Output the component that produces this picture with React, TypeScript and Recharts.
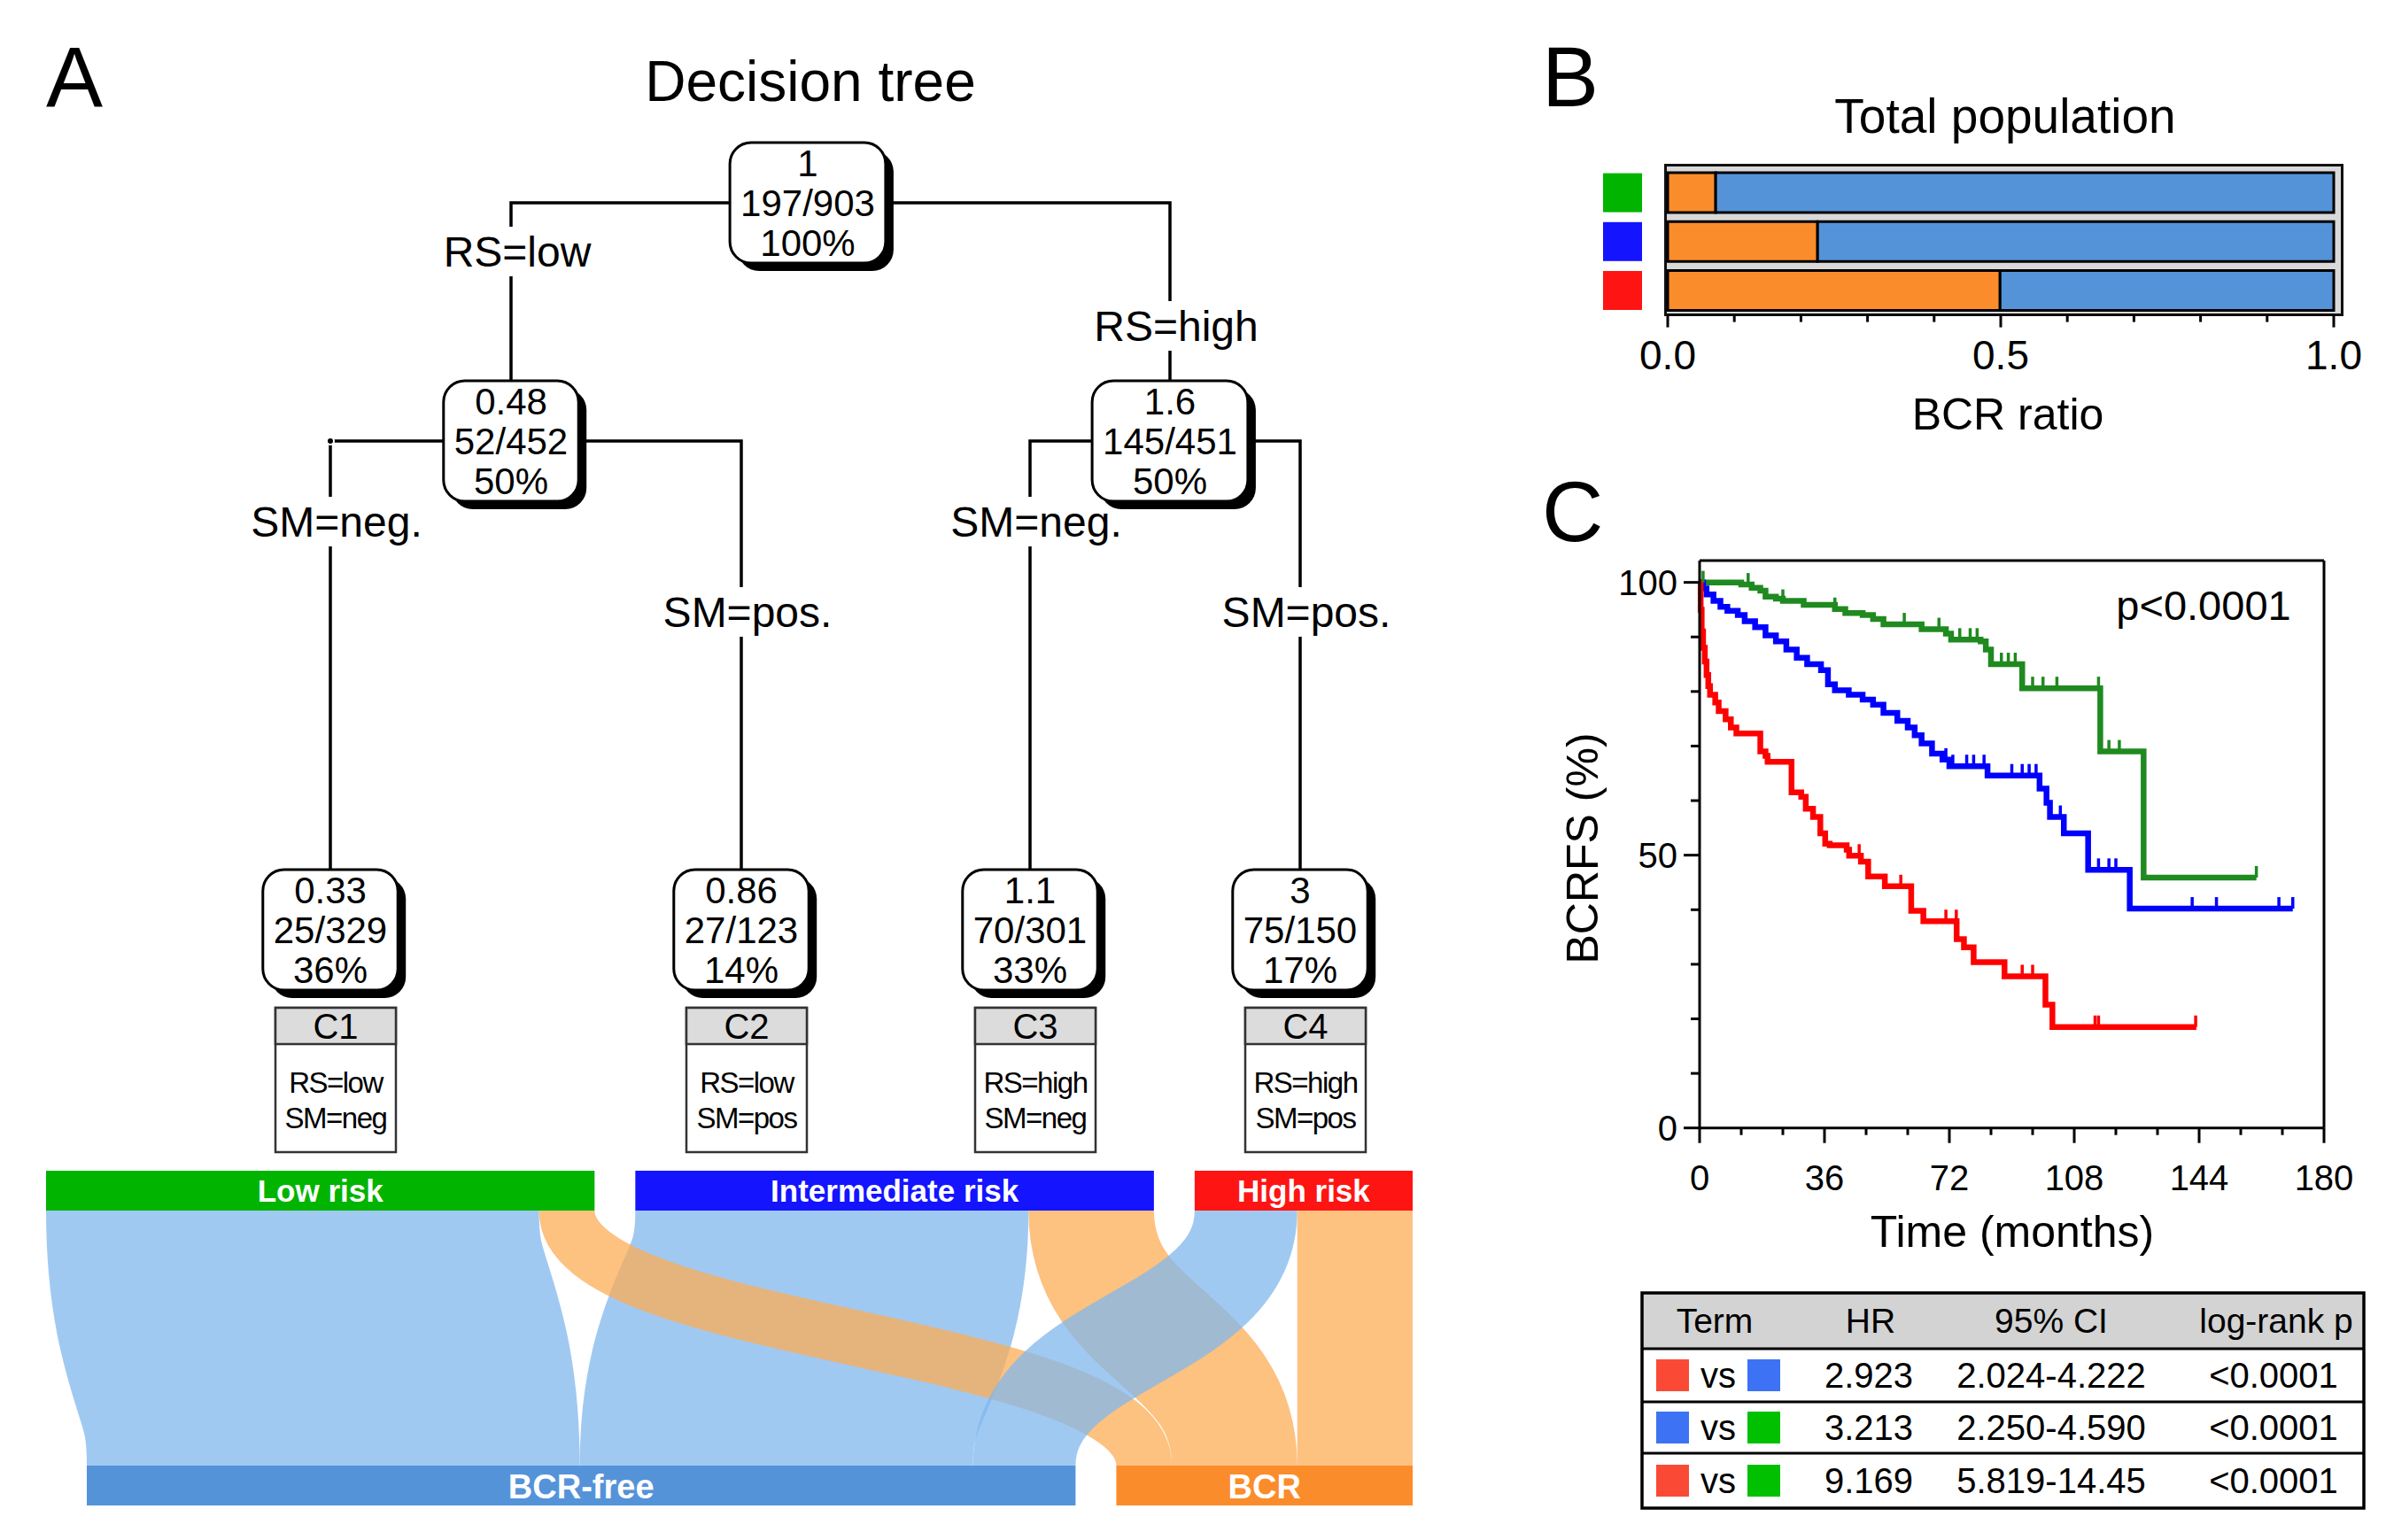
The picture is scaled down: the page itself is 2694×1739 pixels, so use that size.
import React from "react"
import {
  Bar,
  BarChart,
  ComposedChart,
  Line,
  ReferenceLine,
  Sankey,
  Scatter,
  XAxis,
  YAxis,
} from "recharts"

const FONT = '"Liberation Sans", Arial, Helvetica, sans-serif'

// ---------- Panel A: decision tree (layout units, 1 unit = 10 px)
const treeNodes = [
  { id: "n1", x: 91.2, y: 22.9, lines: ["1", "197/903", "100%"] },
  { id: "n2", x: 57.7, y: 49.8, lines: ["0.48", "52/452", "50%"] },
  { id: "n3", x: 132.1, y: 49.8, lines: ["1.6", "145/451", "50%"] },
  { id: "n4", x: 37.3, y: 105.0, lines: ["0.33", "25/329", "36%"], cluster: "C1", rule: ["RS=low", "SM=neg"] },
  { id: "n5", x: 83.7, y: 105.0, lines: ["0.86", "27/123", "14%"], cluster: "C2", rule: ["RS=low", "SM=pos"] },
  { id: "n6", x: 116.3, y: 105.0, lines: ["1.1", "70/301", "33%"], cluster: "C3", rule: ["RS=high", "SM=neg"] },
  { id: "n7", x: 146.8, y: 105.0, lines: ["3", "75/150", "17%"], cluster: "C4", rule: ["RS=high", "SM=pos"] },
]

const treeEdges = [
  { from: "n1", to: "n2", label: "RS=low", labelY: 28.4 },
  { from: "n1", to: "n3", label: "RS=high", labelY: 36.8 },
  { from: "n2", to: "n4", label: "SM=neg.", labelY: 58.9 },
  { from: "n2", to: "n5", label: "SM=pos.", labelY: 69.1 },
  { from: "n3", to: "n6", label: "SM=neg.", labelY: 58.9 },
  { from: "n3", to: "n7", label: "SM=pos.", labelY: 69.1 },
]

const flowNodes = ["Low risk", "Intermediate risk", "High risk", "BCR-free", "BCR"]
const flowNodeColors = ["#00b400", "#1414ff", "#ff1414", "#5593d9", "#fb8c2b"]
const flowSource = [0, 1, 0, 1, 2, 2]
const flowTarget = [3, 3, 4, 4, 3, 4]
const flowValue = [346, 276, 39, 88, 72, 81]

// ---------- Panel B: BCR ratio per group
const riskGroups = ["low", "intermediate", "high"]
const groupColors: Record<string, string> = { low: "#00b400", intermediate: "#1414ff", high: "#ff1414" }
const bcrRatio = [0.072, 0.225, 0.499]
const freeRatio = [0.928, 0.775, 0.501]
const ratioTicks = [0, 0.1, 0.2, 0.3, 0.4, 0.5, 0.6, 0.7, 0.8, 0.9, 1]

// ---------- Panel C: Kaplan-Meier, [months, BCRFS %]
const kmLow = [
  [0, 100], [12, 99.6], [15, 99], [17.5, 98.5], [19, 97.4], [22, 97], [24, 96.6], [30, 95.9],
  [39, 95.1], [42, 94.4], [47, 94], [50, 93.3], [53, 92.3], [64, 91.4], [71, 90.6], [72.5, 89.5],
  [81, 89.2], [82.5, 87.7], [84, 85], [93, 80.6], [115.5, 69], [128, 45.9], [160.5, 45.9],
]
const kmInt = [
  [0, 100], [1, 98.9], [2, 97.8], [4, 96.6], [6, 95.5], [8, 94.8], [11, 94], [13, 92.9],
  [16, 91.8], [19, 90.3], [22, 89.2], [25, 87.7], [28, 86.2], [31, 85], [35, 83.9], [37, 81.3],
  [39, 80.2], [43, 79.4], [47, 78.5], [50, 77.6], [53, 76.1], [57, 74.6], [60, 73.4], [62, 72],
  [64, 70.5], [67, 68.6], [70, 67.5], [72, 66.3], [83, 64.6], [98, 62.2], [100, 59.6], [101, 57],
  [105, 54], [112, 47.3], [124, 40.2], [171, 40.2],
]
const kmHigh = [
  [0, 100], [0.3, 95], [0.6, 91], [1, 88], [1.5, 85.5], [2, 83], [2.5, 81], [3, 79.4],
  [4.5, 78], [5.5, 76.4], [7.5, 74.9], [9, 73.4], [10.6, 72.3], [17.5, 69], [19, 68.2], [19.6, 67.1],
  [26.5, 61.5], [29.3, 60.7], [30.6, 58.5], [32.7, 57], [34.8, 54], [36.2, 52.1], [37.5, 51.8],
  [42.4, 51], [43.1, 49.9], [46.5, 48.8], [48.6, 46.1], [53.4, 44.3], [61, 39.8], [64.5, 37.9],
  [74.1, 34.6], [76.2, 33.1], [79, 30.4], [87.9, 27.8], [99.7, 22.6], [101.7, 18.5], [143.2, 18.5],
]
// censored patients
const censorLow = [
  [1, 100], [14, 99.6], [24, 96.6], [39, 95.1], [59, 92.3], [69, 91.4], [75, 89.5], [78, 89.5],
  [80, 89.5], [87, 85], [89, 85], [91, 85], [96, 80.6], [99, 80.6], [103, 80.6], [115, 80.6],
  [118, 69], [121, 69], [160.5, 45.9],
]
const censorInt = [
  [71, 67.5], [73, 66.3], [77, 66.3], [79, 66.3], [82, 66.3], [90, 64.6], [93, 64.6], [95, 64.6],
  [97, 64.6], [104, 57], [115, 47.3], [118, 47.3], [120, 47.3], [142, 40.2], [149, 40.2],
  [167, 40.2], [171, 40.2],
]
const censorHigh = [
  [46, 49.9], [58, 44.3], [71, 37.9], [74, 37.9], [93, 27.8], [96, 27.8], [114, 18.5], [115, 18.5],
  [143, 18.5],
]
const kmColors = ["#1f8a1f", "#0000ff", "#ff0000"]
const monthTicks = [0, 12, 24, 36, 48, 60, 72, 84, 96, 108, 120, 132, 144, 156, 168, 180]
const survTicks = [0, 10, 20, 30, 40, 50, 60, 70, 80, 90, 100]

// ---------- HR table
const tableColors: Record<string, string> = { red: "#fa4a35", blue: "#3d72f5", green: "#00c000" }
const hrTerms = [["red", "blue"], ["blue", "green"], ["red", "green"]]
const hrValues = ["2.923", "3.213", "9.169"]
const hrCI = ["2.024-4.222", "2.250-4.590", "5.819-14.45"]
const hrP = ["<0.0001", "<0.0001", "<0.0001"]

const toPts = (arr: number[][]) => arr.map(([t, s]) => ({ t, s }))

function textWidth(s: string, size: number) {
  let w = 0
  for (const ch of s) w += ch === "/" || ch === "." ? 0.278 : ch === "%" ? 0.889 : 0.556
  return w * size
}

const TreeNodeShape = (props: any) => {
  const { cx, cy, payload } = props
  const fs = 42
  const w = Math.max(...payload.lines.map((l: string) => textWidth(l, fs))) + 24
  const h = 136
  const x = cx - w / 2
  const y = cy - h / 2
  const bx = cx + 6 - 68
  const by = cy + 88
  return (
    <g fontFamily={FONT}>
      <rect x={x + 9} y={y + 9} width={w} height={h} rx={24} fill="#000" />
      <rect x={x} y={y} width={w} height={h} rx={24} fill="#fff" stroke="#000" strokeWidth={3} />
      {payload.lines.map((l: string, i: number) => (
        <text key={i} x={cx} y={cy + (i - 1) * 45 + 15} textAnchor="middle" fontSize={fs} fill="#000">
          {l}
        </text>
      ))}
      {payload.cluster && (
        <g>
          <rect x={bx} y={by} width={136} height={163} fill="#fff" stroke="#333" strokeWidth={2.5} />
          <rect x={bx} y={by} width={136} height={41} fill="#dcdcdc" stroke="#333" strokeWidth={2.5} />
          <text x={bx + 68} y={by + 35} textAnchor="middle" fontSize={40}>
            {payload.cluster}
          </text>
          {payload.rule.map((r: string, i: number) => (
            <text
              key={r}
              x={bx + 68}
              y={by + 96 + i * 40}
              textAnchor="middle"
              fontSize={33}
              letterSpacing={-1.5}
            >
              {r}
            </text>
          ))}
        </g>
      )}
    </g>
  )
}

const EdgeLabelShape = (props: any) => {
  const { cx, cy, payload } = props
  return (
    <g>
      <rect x={cx - 10} y={cy - 28} width={20} height={56} fill="#fff" />
      <text x={cx + 7} y={cy + 17} textAnchor="middle" fontSize={48} fontFamily={FONT} fill="#000">
        {payload.text}
      </text>
    </g>
  )
}

const nodeById = (id: string) => treeNodes.find((n) => n.id === id)!

const SankeyNodeShape = (props: any) => {
  const { x, y, width, height, index } = props
  const cx = x + width / 2
  const cy = y + height / 2
  const bottom = index >= 3
  return (
    <g>
      <rect x={x} y={y} width={width} height={height} fill={flowNodeColors[index]} />
      <g transform="matrix(0,1,1,0,0,0)">
        <text
          x={cy}
          y={cx + (bottom ? 14 : 12)}
          textAnchor="middle"
          fill="#fff"
          fontWeight="bold"
          fontSize={bottom ? 38 : 35}
          fontFamily={FONT}
        >
          {flowNodes[index]}
        </text>
      </g>
    </g>
  )
}

const SankeyLinkShape = (props: any) => {
  const { sourceX, sourceY, sourceControlX, targetX, targetY, targetControlX, linkWidth, index } = props
  const toBcr = flowTarget[index] === 4
  return (
    <path
      d={`M${sourceX},${sourceY}C${sourceControlX},${sourceY} ${targetControlX},${targetY} ${targetX},${targetY}`}
      fill="none"
      stroke={toBcr ? "#fcac56" : "#80b7ee"}
      strokeOpacity={0.75}
      strokeWidth={linkWidth}
    />
  )
}

const RatioTick = (p: any) => {
  const v = p.payload.value
  const major = Math.abs(v * 2 - Math.round(v * 2)) < 1e-6
  return (
    <g>
      <line x1={p.x} x2={p.x} y1={p.y} y2={p.y + (major ? 14 : 8)} stroke="#000" strokeWidth={3} />
      {major && (
        <text x={p.x} y={p.y + 61} textAnchor="middle" fontSize={46} fontFamily={FONT} fill="#000">
          {v.toFixed(1)}
        </text>
      )}
    </g>
  )
}

const GroupTick = (p: any) => (
  <rect x={p.x - 73} y={p.y - 22} width={44} height={44} fill={groupColors[p.payload.value]} />
)

const MonthTick = (p: any) => {
  const v = p.payload.value
  const major = v % 36 === 0
  return (
    <g>
      <line x1={p.x} x2={p.x} y1={p.y} y2={p.y + (major ? 17 : 8)} stroke="#000" strokeWidth={3} />
      {major && (
        <text x={p.x} y={p.y + 70} textAnchor="middle" fontSize={40} fontFamily={FONT} fill="#000">
          {v}
        </text>
      )}
    </g>
  )
}

const SurvTick = (p: any) => {
  const v = p.payload.value
  const major = v % 50 === 0
  return (
    <g>
      <line x1={p.x - (major ? 18 : 10)} x2={p.x} y1={p.y} y2={p.y} stroke="#000" strokeWidth={3} />
      {major && (
        <text x={p.x - 25} y={p.y + 14} textAnchor="end" fontSize={40} fontFamily={FONT} fill="#000">
          {v}
        </text>
      )}
    </g>
  )
}

const censorShape = (color: string) => (p: any) => (
  <line x1={p.cx} x2={p.cx} y1={p.cy} y2={p.cy - 13} stroke={color} strokeWidth={3.5} />
)

export default function App() {
  const edgePaths = treeEdges.map((e) => {
    const a = nodeById(e.from)
    const b = nodeById(e.to)
    return [
      { x: a.x, y: a.y },
      { x: b.x, y: a.y },
      { x: b.x, y: b.y },
    ]
  })
  const edgeLabels = treeEdges.map((e) => ({ x: nodeById(e.to).x, y: e.labelY, text: e.label }))

  const sankeyData = {
    nodes: flowNodes.map((name) => ({ name })),
    links: flowValue.map((value, i) => ({ source: flowSource[i], target: flowTarget[i], value })),
  }

  const ratioData = riskGroups.map((group, i) => ({ group, bcr: bcrRatio[i], free: freeRatio[i] }))
  const kmSeries = [toPts(kmLow), toPts(kmInt), toPts(kmHigh)]
  const censorSeries = [toPts(censorLow), toPts(censorInt), toPts(censorHigh)]

  const rowTops = [1523, 1583, 1641]
  const rowBottoms = [1583, 1641, 1703]

  return (
    <div
      style={{
        position: "absolute",
        left: 0,
        top: 0,
        width: 2694,
        height: 1739,
        background: "#fff",
        fontFamily: FONT,
        overflow: "hidden",
      }}
    >
      {/* Panel A: tree */}
      <div style={{ position: "absolute", left: 0, top: 0 }}>
        <ComposedChart width={1700} height={1320} margin={{ top: 0, right: 0, bottom: 0, left: 0 }}>
          <XAxis type="number" dataKey="x" domain={[0, 170]} hide />
          <YAxis type="number" dataKey="y" domain={[0, 132]} reversed hide />
          {edgePaths.map((pts, i) => (
            <Line
              key={i}
              data={pts}
              dataKey="y"
              type="linear"
              stroke="#000"
              strokeWidth={3.5}
              dot={false}
              isAnimationActive={false}
            />
          ))}
          <Scatter data={edgeLabels} dataKey="y" shape={EdgeLabelShape} isAnimationActive={false} />
          <Scatter data={treeNodes} dataKey="y" shape={TreeNodeShape} isAnimationActive={false} />
        </ComposedChart>
      </div>

      {/* Panel A: flows (sankey drawn left-to-right, transposed to top-to-bottom) */}
      <div
        style={{
          position: "absolute",
          left: 52,
          top: 1322,
          width: 378,
          height: 1543,
          transform: "matrix(0,1,1,0,0,0)",
          transformOrigin: "0 0",
        }}
      >
        <Sankey
          width={378}
          height={1543}
          data={sankeyData}
          nodeWidth={45}
          nodePadding={46}
          sort={false}
          margin={{ top: 0, right: 0, bottom: 0, left: 0 }}
          node={SankeyNodeShape}
          link={SankeyLinkShape}
        />
      </div>

      {/* Panel B */}
      <div
        style={{
          position: "absolute",
          left: 1879,
          top: 185,
          width: 767,
          height: 172,
          boxSizing: "border-box",
          border: "3px solid #111",
          background: "#d9d9d9",
        }}
      />
      <div style={{ position: "absolute", left: 1760, top: 150 }}>
        <BarChart
          width={934}
          height={300}
          layout="vertical"
          data={ratioData}
          margin={{ top: 40, right: 59, left: 23, bottom: 34.4 }}
        >
          <XAxis
            type="number"
            domain={[0, 1]}
            ticks={ratioTicks}
            interval={0}
            height={60}
            tickLine={false}
            tickSize={0}
            tickMargin={0}
            tick={RatioTick}
            axisLine={{ stroke: "#000", strokeWidth: 3 }}
          />
          <YAxis
            type="category"
            dataKey="group"
            width={100}
            axisLine={false}
            tickLine={false}
            tickSize={0}
            tickMargin={0}
            tick={GroupTick}
          />
          <Bar dataKey="bcr" stackId="r" barSize={45} fill="#fb8c2b" stroke="#000" strokeWidth={3} isAnimationActive={false} />
          <Bar dataKey="free" stackId="r" barSize={45} fill="#5593d9" stroke="#000" strokeWidth={3} isAnimationActive={false} />
        </BarChart>
      </div>

      {/* Panel C */}
      <div style={{ position: "absolute", left: 1760, top: 600 }}>
        <ComposedChart width={934} height={800} margin={{ top: 33, right: 70, left: 39, bottom: 46.3 }}>
          <XAxis
            type="number"
            dataKey="t"
            domain={[0, 180]}
            ticks={monthTicks}
            interval={0}
            height={80}
            tickLine={false}
            tickSize={0}
            tickMargin={0}
            tick={MonthTick}
            axisLine={{ stroke: "#000", strokeWidth: 3 }}
          />
          <YAxis
            type="number"
            dataKey="s"
            domain={[0, 104]}
            ticks={survTicks}
            interval={0}
            width={120}
            tickLine={false}
            tickSize={0}
            tickMargin={0}
            tick={SurvTick}
            axisLine={{ stroke: "#000", strokeWidth: 3 }}
          />
          <ReferenceLine y={104} stroke="#000" strokeWidth={3} />
          <ReferenceLine x={180} stroke="#000" strokeWidth={3} />
          {kmSeries.map((d, i) => (
            <Line
              key={i}
              data={d}
              dataKey="s"
              type="stepAfter"
              stroke={kmColors[i]}
              strokeWidth={6.5}
              dot={false}
              isAnimationActive={false}
            />
          ))}
          {censorSeries.map((d, i) => (
            <Scatter key={i} data={d} dataKey="s" shape={censorShape(kmColors[i])} isAnimationActive={false} />
          ))}
        </ComposedChart>
      </div>

      {/* Titles, panel letters and HR table */}
      <svg
        width={2694}
        height={1739}
        style={{ position: "absolute", left: 0, top: 0, pointerEvents: "none" }}
        fontFamily={FONT}
      >
        <text x={52} y={120} fontSize={96}>A</text>
        <text x={1741} y={120} fontSize={96}>B</text>
        <text x={1741} y={611} fontSize={96}>C</text>
        <text x={915} y={114} fontSize={64} textAnchor="middle">Decision tree</text>
        <text x={2264} y={150} fontSize={55} textAnchor="middle">Total population</text>
        <text x={2267} y={485} fontSize={50} textAnchor="middle">BCR ratio</text>
        <text x={2488} y={700} fontSize={47} textAnchor="middle">p&lt;0.0001</text>
        <text x={2272} y={1408} fontSize={50} textAnchor="middle">Time (months)</text>
        <text x={1804} y={958} fontSize={50} textAnchor="middle" transform="rotate(-90 1804 958)">
          BCRFS (%)
        </text>

        <rect x={1854} y={1460} width={815} height={63} fill="#d3d3d3" />
        <rect x={1854} y={1460} width={815} height={243} fill="none" stroke="#000" strokeWidth={3.5} />
        {rowTops.map((y) => (
          <line key={y} x1={1854} x2={2669} y1={y} y2={y} stroke="#000" strokeWidth={3} />
        ))}
        <text x={1936} y={1505} fontSize={39} textAnchor="middle">Term</text>
        <text x={2112} y={1505} fontSize={39} textAnchor="middle">HR</text>
        <text x={2316} y={1505} fontSize={39} textAnchor="middle">95% CI</text>
        <text x={2570} y={1505} fontSize={39} textAnchor="middle">log-rank p</text>
        {hrTerms.map((pair, i) => {
          const cy = (rowTops[i] + rowBottoms[i]) / 2
          return (
            <g key={i}>
              <rect x={1870} y={cy - 18} width={37} height={36} fill={tableColors[pair[0]]} />
              <text x={1940} y={cy + 14} fontSize={40} textAnchor="middle">vs</text>
              <rect x={1973} y={cy - 18} width={37} height={36} fill={tableColors[pair[1]]} />
              <text x={2110} y={cy + 14} fontSize={40} textAnchor="middle">{hrValues[i]}</text>
              <text x={2316} y={cy + 14} fontSize={40} textAnchor="middle">{hrCI[i]}</text>
              <text x={2567} y={cy + 14} fontSize={40} textAnchor="middle">{hrP[i]}</text>
            </g>
          )
        })}
      </svg>
    </div>
  )
}
